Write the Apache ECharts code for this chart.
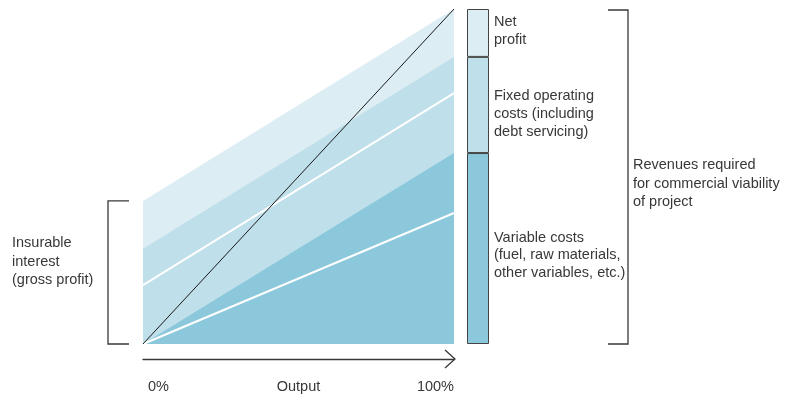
<!DOCTYPE html>
<html>
<head>
<meta charset="utf-8">
<script src="https://cdn.jsdelivr.net/npm/echarts@6/dist/echarts.min.js"></script>
<style>
html,body{margin:0;padding:0;background:#fff;}
#chart{width:791px;height:398px;}
</style>
</head>
<body>
<div id="chart"></div>
<script>
// ---- data (values in % of revenue scale, x = output %) ----
const outputPct = [0, 100];
const netProfitTop = [42.7, 100];     // top of net-profit band
const fixedCostTop = [28.4, 85.7];    // top of fixed-cost band
const variableCostTop = [0, 57.0];    // top of variable-cost band
const upperWhiteLine = [17.6, 74.9];
const lowerWhiteLine = [0, 39.1];
const revenueLine = [0, 100];
const tickLabels = ['0%', 'Output', '100%'];
const barNames = ['Variable costs', 'Fixed operating costs', 'Net profit'];
const barValues = [57.0, 28.7, 14.3];

const C_LIGHT = '#ddedf4', C_MID = '#bfdfea', C_DARK = '#8bc8dc';
const INK = '#383838';
const FONT = '"Liberation Sans", Arial, sans-serif';
const FS = 14.5;

const pairs = arr => outputPct.map((x, i) => [x, arr[i]]);

const chart = echarts.init(document.getElementById('chart'), null, {renderer: 'canvas'});

const areaSeries = (data, color, z) => ({
  type: 'line', xAxisIndex: 0, yAxisIndex: 0, data: pairs(data),
  symbol: 'none', lineStyle: {width: 0}, areaStyle: {color: color, opacity: 1},
  z: z, silent: true, animation: false
});
const lineSeries = (data, color, width, z) => ({
  type: 'line', xAxisIndex: 0, yAxisIndex: 0, data: pairs(data),
  symbol: 'none', lineStyle: {color: color, width: width}, z: z, silent: true, animation: false
});

const barColors = [C_DARK, C_MID, C_LIGHT];

chart.setOption({
  animation: false,
  grid: [
    {left: 143, right: 337, top: 9, bottom: 54},
    {left: 467, width: 22, top: 9, bottom: 54}
  ],
  xAxis: [
    {type: 'value', min: 0, max: 100, interval: 50, gridIndex: 0, offset: 15,
     axisLine: {show: true, onZero: false, lineStyle: {color: INK, width: 1.3}},
     axisTick: {show: false}, splitLine: {show: false},
     axisLabel: {
       color: INK, fontFamily: FONT, fontSize: FS, margin: 20,
       alignMinLabel: 'left', alignMaxLabel: 'right',
       formatter: v => v === 0 ? '{a|' + tickLabels[0] + '}' : (v === 50 ? tickLabels[1] : tickLabels[2]),
       rich: {a: {padding: [0, 0, 0, 5], color: INK, fontFamily: FONT, fontSize: FS}}
     }},
    {type: 'category', data: ['x'], gridIndex: 1, show: false}
  ],
  yAxis: [
    {type: 'value', min: 0, max: 100, gridIndex: 0, show: false},
    {type: 'value', min: 0, max: 100, gridIndex: 1, show: false}
  ],
  series: [
    areaSeries(netProfitTop, C_LIGHT, 1),
    areaSeries(fixedCostTop, C_MID, 2),
    areaSeries(variableCostTop, C_DARK, 3),
    lineSeries(upperWhiteLine, '#ffffff', 2, 4),
    lineSeries(lowerWhiteLine, '#ffffff', 2, 4),
    lineSeries(revenueLine, '#1a1a1a', 1, 5)
  ].concat(barValues.map((v, i) => ({
    type: 'bar', name: barNames[i], xAxisIndex: 1, yAxisIndex: 1, stack: 'rev',
    data: [v], barWidth: '100%',
    itemStyle: {color: barColors[i], borderColor: '#444', borderWidth: 1},
    silent: true
  })))
});

// ---- annotations positioned from the chart's own scales ----
const p = (x, y) => chart.convertToPixel({gridIndex: 0}, [x, y]);
const p0 = p(0, 0), pTopLeft = p(0, netProfitTop[0]), p100 = p(100, 0), pTop = p(100, 100);
const axisY = p0[1] + 15;
const bar0 = chart.convertToPixel({gridIndex: 1}, ['x', 0]);
const barRight = bar0[0] + 11;

const txt = (x, y, lines, lh) => ({
  type: 'text', left: x, top: y, silent: true,
  style: {text: lines.join('\n'), fill: INK, font: FS + 'px ' + FONT, lineHeight: lh}
});
const stroke = {stroke: INK, lineWidth: 1.3, fill: null};

chart.setOption({
  graphic: [
    // axis arrow head
    {type: 'polyline', silent: true, shape: {points: [[p100[0] - 9, axisY - 9], [p100[0] + 1, axisY], [p100[0] - 9, axisY + 9]]}, style: stroke},
    // left bracket (insurable interest)
    {type: 'polyline', silent: true, shape: {points: [[p0[0] - 14, pTopLeft[1]], [p0[0] - 35, pTopLeft[1]], [p0[0] - 35, p0[1]], [p0[0] - 14, p0[1]]]}, style: stroke},
    // right bracket (revenues)
    {type: 'polyline', silent: true, shape: {points: [[barRight + 119, pTop[1] + 1], [barRight + 139, pTop[1] + 1], [barRight + 139, p0[1]], [barRight + 119, p0[1]]]}, style: stroke},
    txt(494, 13, ['Net', 'profit'], 18),
    txt(494, 87, ['Fixed operating', 'costs (including', 'debt servicing)'], 18),
    txt(494, 229, ['Variable costs', '(fuel, raw materials,', 'other variables, etc.)'], 17.5),
    txt(12, 234, ['Insurable', 'interest', '(gross profit)'], 18.5),
    txt(633, 156, ['Revenues required', 'for commercial viability', 'of project'], 18.5)
  ]
});
</script>
</body>
</html>
